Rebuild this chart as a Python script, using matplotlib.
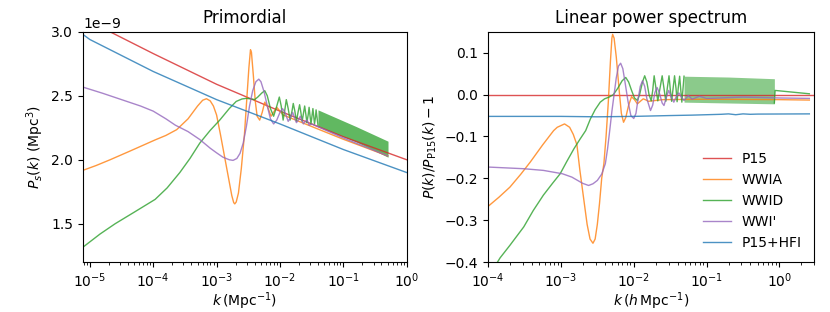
import matplotlib
matplotlib.use('Agg')
import matplotlib.pyplot as plt
import numpy as np

# ---- left panel: primordial spectrum, log10 k (Mpc^-1), P in units of 1e-9 ----
p15_logk = [-5.11, -5.0, -4.0, -3.0, -2.0, -1.0, 0.0]
p15_P = [3.11, 3.08, 2.83, 2.59, 2.38, 2.18, 2.00]

hfi_logk = [-5.11, -5.0, -4.0, -3.0, -2.0, -1.0, 0.0]
hfi_P = [2.98, 2.94, 2.69, 2.47, 2.28, 2.08, 1.90]

wwia_logk = [-5.11, -4.90, -4.68, -4.37, -3.97, -3.80, -3.63, -3.45, -3.30, -3.22,
             -3.16, -3.10, -3.05, -3.00, -2.94, -2.85, -2.76, -2.73, -2.713, -2.69,
             -2.655, -2.61, -2.56, -2.52, -2.49, -2.465, -2.45, -2.42, -2.39, -2.36,
             -2.32, -2.28, -2.24, -2.20, -2.14, -2.09, -2.05, -2.00, -1.95, -1.8,
             -1.0, -0.3]
wwia_P = [1.917, 1.955, 2.00, 2.067, 2.155, 2.19, 2.235, 2.32, 2.42, 2.465,
          2.477, 2.46, 2.42, 2.35, 2.20, 1.96, 1.72, 1.665, 1.655, 1.67,
          1.74, 1.93, 2.20, 2.50, 2.72, 2.86, 2.84, 2.66, 2.46, 2.34,
          2.31, 2.37, 2.45, 2.42, 2.34, 2.38, 2.41, 2.38, 2.35, 2.32,
          2.16, 2.03]

wwid_logk = [-5.11, -4.84, -4.6, -4.3, -3.97, -3.78, -3.58, -3.42, -3.265, -3.1,
             -2.95, -2.8, -2.69, -2.6, -2.53, -2.45, -2.40, -2.35, -2.29, -2.24,
             -2.20, -2.15, -2.10, -2.05, -2.01, -1.98, -1.95, -1.92, -1.90, -1.87,
             -1.84, -1.81, -1.79, -1.765, -1.74, -1.715, -1.69, -1.67, -1.65, -1.63,
             -1.61, -1.59, -1.575, -1.555, -1.54, -1.525, -1.51, -1.495, -1.48, -1.465,
             -1.455, -1.44, -1.43, -1.415, -1.40]
wwid_P = [1.316, 1.419, 1.50, 1.59, 1.69, 1.78, 1.90, 2.01, 2.13, 2.23,
          2.31, 2.40, 2.456, 2.475, 2.48, 2.475, 2.47, 2.49, 2.52, 2.54,
          2.50, 2.40, 2.34, 2.42, 2.49, 2.42, 2.31, 2.40, 2.47, 2.40,
          2.31, 2.38, 2.44, 2.38, 2.30, 2.37, 2.43, 2.37, 2.30, 2.36,
          2.42, 2.35, 2.29, 2.35, 2.41, 2.34, 2.28, 2.34, 2.40, 2.33,
          2.28, 2.33, 2.39, 2.33, 2.27]
# unresolved fast oscillations: band envelope
wwid_band_logk = [-1.40, -0.8, -0.295]
wwid_band_top = [2.39, 2.26, 2.145]
wwid_band_bot = [2.26, 2.14, 2.02]

wwip_logk = [-5.11, -4.8, -4.5, -4.2, -4.0, -3.8, -3.65, -3.45, -3.265, -3.1,
             -3.0, -2.9, -2.8, -2.74, -2.68, -2.63, -2.58, -2.53, -2.48, -2.43,
             -2.38, -2.334, -2.30, -2.25, -2.20, -2.15, -2.10, -2.05, -2.00, -1.96,
             -1.92, -1.87, -1.835, -1.80, -1.77, -1.74, -1.71, -1.68, -1.655, -1.63,
             -1.60, -1.57, -1.54, -1.5, -1.0, -0.3]
wwip_P = [2.568, 2.52, 2.47, 2.42, 2.38, 2.32, 2.27, 2.22, 2.158, 2.09,
          2.054, 2.02, 2.00, 1.995, 2.01, 2.05, 2.13, 2.26, 2.42, 2.54,
          2.61, 2.63, 2.61, 2.53, 2.42, 2.32, 2.28, 2.31, 2.37, 2.40,
          2.37, 2.30, 2.33, 2.37, 2.33, 2.29, 2.31, 2.34, 2.31, 2.28,
          2.30, 2.31, 2.27, 2.28, 2.17, 2.03]

# ---- right panel: P(k)/P_P15(k) - 1, log10 k (h Mpc^-1) ----
r_p15_logk = [-4.0, 0.5]
r_p15_v = [0.0, 0.0]

r_hfi_logk = [-4.0, -3.0, -2.5, -2.0, -1.5, -1.2, -1.0, -0.8, -0.7, -0.6, -0.5, -0.4, -0.3, 0.41]
r_hfi_v = [-0.052, -0.052, -0.053, -0.052, -0.050, -0.049, -0.048, -0.047, -0.046, -0.048,
           -0.046, -0.047, -0.0465, -0.046]

r_wwia_logk = [-4.0, -3.85, -3.70, -3.55, -3.42, -3.25, -3.10, -3.05, -2.95, -2.88,
               -2.83, -2.78, -2.74, -2.69, -2.64, -2.60, -2.56, -2.53, -2.50, -2.47,
               -2.44, -2.41, -2.38, -2.35, -2.32, -2.30, -2.29, -2.27, -2.24, -2.20,
               -2.17, -2.14, -2.11, -2.07, -2.03, -1.99, -1.95, -1.91, -1.87, -1.83,
               -1.80, -1.6, -1.0, 0.0, 0.41]
r_wwia_v = [-0.267, -0.245, -0.221, -0.19, -0.161, -0.12, -0.086, -0.078, -0.070, -0.078,
            -0.095, -0.12, -0.18, -0.245, -0.31, -0.345, -0.355, -0.345, -0.31, -0.26,
            -0.20, -0.165, -0.10, -0.02, 0.08, 0.135, 0.144, 0.135, 0.09, 0.01,
            -0.045, -0.066, -0.055, -0.025, -0.005, -0.012, -0.022, -0.016, -0.010, -0.013,
            -0.016, -0.012, -0.011, -0.012, -0.013]

r_wwid_logk = [-4.0, -3.87, -3.835, -3.7, -3.51, -3.38, -3.24, -3.12, -3.01, -2.92,
               -2.82, -2.74, -2.66, -2.595, -2.53, -2.46, -2.40, -2.34, -2.28, -2.22,
               -2.16, -2.11, -2.07, -2.03, -1.99, -1.95, -1.92, -1.88, -1.85, -1.82,
               -1.79, -1.76, -1.74, -1.72, -1.695, -1.67, -1.64, -1.61, -1.585, -1.56,
               -1.54, -1.516, -1.50, -1.48, -1.46, -1.44, -1.42, -1.405, -1.39, -1.37,
               -1.355, -1.34, -1.325, -1.31]
r_wwid_v = [-0.44, -0.40, -0.39, -0.36, -0.316, -0.277, -0.240, -0.213, -0.189, -0.16,
            -0.129, -0.107, -0.086, -0.058, -0.036, -0.018, -0.010, -0.006, 0.0, 0.015,
            0.033, 0.041, 0.030, 0.010, -0.008, -0.014, 0.000, 0.030, 0.045, 0.030,
            0.000, -0.015, 0.010, 0.045, 0.015, -0.015, 0.015, 0.045, 0.015, -0.016,
            0.015, 0.045, 0.015, -0.016, 0.015, 0.045, 0.015, -0.017, 0.015, 0.044,
            0.012, -0.018, 0.012, 0.044]
r_wwid_band_logk = [-1.31, -0.7, -0.07]
r_wwid_band_top = [0.044, 0.042, 0.038]
r_wwid_band_bot = [-0.018, -0.020, -0.022]
r_wwid_tail_logk = [-0.07, -0.06, 0.41]
r_wwid_tail_v = [-0.02, 0.010, 0.002]

r_wwip_logk = [-4.0, -3.51, -3.24, -2.98, -2.85, -2.70, -2.62, -2.56, -2.50, -2.44,
               -2.39, -2.36, -2.33, -2.30, -2.27, -2.24, -2.21, -2.18, -2.15, -2.12,
               -2.08, -2.04, -2.00, -1.97, -1.94, -1.91, -1.88, -1.85, -1.82, -1.77,
               -1.74, -1.71, -1.68, -1.65, -1.61, -1.585, -1.55, -1.52, -1.485, -1.45,
               -1.415, -1.38, -1.345, -1.31, -1.25, -1.20, -1.1, -1.0, -0.5, 0.0,
               0.41]
r_wwip_v = [-0.173, -0.177, -0.181, -0.189, -0.197, -0.212, -0.217, -0.213, -0.205, -0.19,
            -0.165, -0.13, -0.086, -0.04, 0.00, 0.04, 0.068, 0.075, 0.062, 0.03,
            -0.015, -0.05, -0.057, -0.045, -0.01, 0.02, 0.033, 0.02, -0.01, -0.038,
            -0.025, 0.005, 0.017, 0.005, -0.02, -0.026, -0.005, 0.010, -0.006, -0.018,
            -0.004, 0.004, -0.006, -0.014, -0.002, -0.011, -0.004, -0.009, -0.006, -0.008,
            -0.009]

labels = ['P15', 'WWIA', 'WWID', "WWI'", 'P15+HFI']
colors = ['tab:red', 'tab:orange', 'tab:green', 'tab:purple', 'tab:blue']
a = 0.8
lw = 1.0

def k(lk):
    return 10 ** np.array(lk)

fig = plt.figure(figsize=(8.3, 3.12), dpi=100)
ax1 = fig.add_axes([0.100, 0.160, 0.390, 0.738])
ax2 = fig.add_axes([0.588, 0.160, 0.393, 0.738])

# left
ax1.plot(k(p15_logk), np.array(p15_P) * 1e-9, color=colors[0], alpha=a, lw=lw)
ax1.plot(k(wwia_logk), np.array(wwia_P) * 1e-9, color=colors[1], alpha=a, lw=lw)
ax1.plot(k(wwid_logk), np.array(wwid_P) * 1e-9, color=colors[2], alpha=a, lw=lw)
ax1.fill_between(k(wwid_band_logk), np.array(wwid_band_bot) * 1e-9,
                 np.array(wwid_band_top) * 1e-9, color=colors[2], alpha=0.75, lw=0)
ax1.plot(k(wwip_logk), np.array(wwip_P) * 1e-9, color=colors[3], alpha=a, lw=lw)
ax1.plot(k(hfi_logk), np.array(hfi_P) * 1e-9, color=colors[4], alpha=a, lw=lw)
ax1.set_xscale('log')
ax1.set_xlim(7.8e-6, 1)
ax1.set_ylim(1.2e-9, 3.0e-9)
ax1.set_yticks([1.5e-9, 2.0e-9, 2.5e-9, 3.0e-9])
ax1.set_title('Primordial', fontsize=12)
ax1.set_xlabel(r'$k\,(\mathrm{Mpc}^{-1})$', fontsize=10, labelpad=0)
ax1.set_ylabel(r'$P_s(k)$ (Mpc$^3$)', fontsize=10)

# right
ax2.plot(k(r_p15_logk), r_p15_v, color=colors[0], alpha=a, lw=lw, label=labels[0])
ax2.plot(k(r_wwia_logk), r_wwia_v, color=colors[1], alpha=a, lw=lw, label=labels[1])
ax2.plot(k(r_wwid_logk), r_wwid_v, color=colors[2], alpha=a, lw=lw, label=labels[2])
ax2.fill_between(k(r_wwid_band_logk), r_wwid_band_bot, r_wwid_band_top,
                 color=colors[2], alpha=0.55, lw=0)
ax2.plot(k(r_wwid_tail_logk), r_wwid_tail_v, color=colors[2], alpha=a, lw=lw)
ax2.plot(k(r_wwip_logk), r_wwip_v, color=colors[3], alpha=a, lw=lw, label=labels[3])
ax2.plot(k(r_hfi_logk), r_hfi_v, color=colors[4], alpha=a, lw=lw, label=labels[4])
ax2.set_xscale('log')
ax2.set_xlim(1e-4, 3)
ax2.set_ylim(-0.4, 0.15)
ax2.set_yticks([-0.4, -0.3, -0.2, -0.1, 0.0, 0.1])
ax2.set_title('Linear power spectrum', fontsize=12)
ax2.set_xlabel(r'$k\,(h\,\mathrm{Mpc}^{-1})$', fontsize=10, labelpad=0)
ax2.set_ylabel(r'$P(k)/P_{\rm P15}(k)-1$', fontsize=10)
ax2.legend(loc='lower right', frameon=False, fontsize=10)

fig.savefig('out.png', dpi=100)
